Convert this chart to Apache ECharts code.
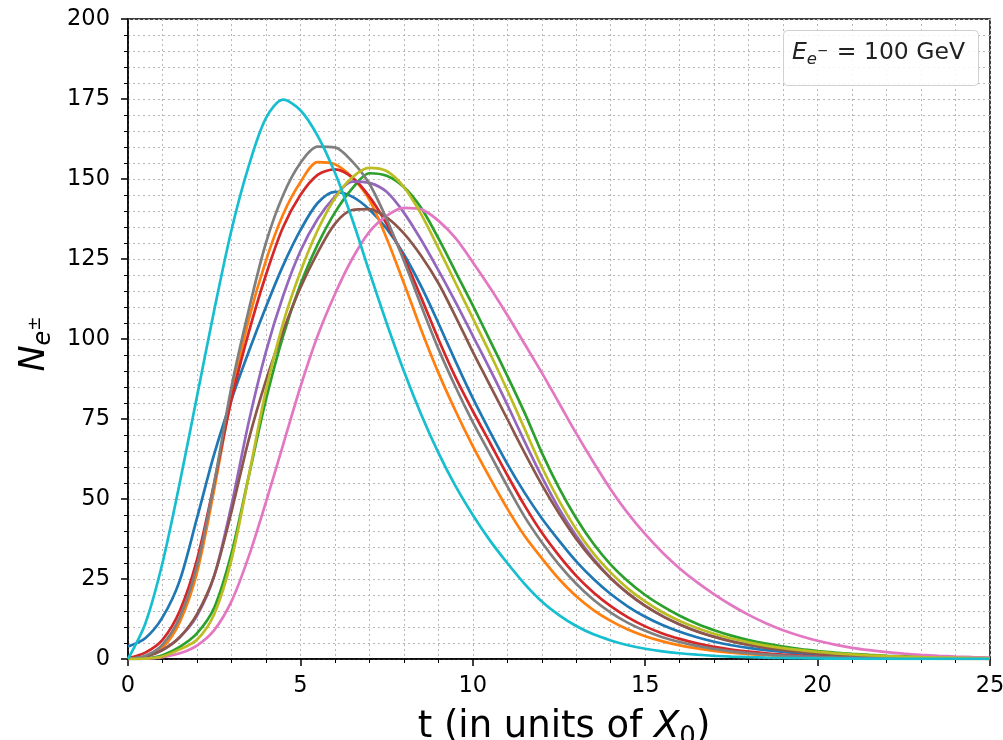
<!DOCTYPE html>
<html>
<head>
<meta charset="utf-8">
<title>Shower profile, 100 GeV electron</title>
<script src="https://cdn.jsdelivr.net/npm/echarts@6/dist/echarts.min.js"></script>
<style>
  html, body { margin: 0; padding: 0; background: #fff; }
  #chart { width: 1003px; height: 740px; }
</style>
</head>
<body>
<div id="chart"></div>
<script>
// depth t in radiation lengths, every half step from 0 to 25
const t = [0, 0.5, 1, 1.5, 2, 2.5, 3, 3.5, 4, 4.5, 5, 5.5, 6, 6.5, 7, 7.5, 8, 8.5, 9, 9.5,
  10, 10.5, 11, 11.5, 12, 12.5, 13, 13.5, 14, 14.5, 15, 15.5, 16, 16.5, 17, 17.5, 18, 18.5, 19, 19.5,
  20, 20.5, 21, 21.5, 22, 22.5, 23, 23.5, 24, 24.5, 25];

// number of e+/e- for each simulated shower
const showerBlue = [3.9, 6.5, 13, 24.5, 44, 64, 81, 96, 110, 123, 134, 142.5, 146, 144.5, 140.5, 134.5, 126.5, 116.5, 105, 93,
  81.5, 71, 61, 52, 44, 37, 30.5, 25, 20.3, 16.4, 13.2, 10.6, 8.5, 6.8, 5.4, 4.3, 3.45, 2.75, 2.2, 1.75,
  1.4, 1.1, 0.86, 0.68, 0.53, 0.41, 0.32, 0.25, 0.2, 0.15, 0.12];
const showerOrange = [0, 0.7, 3.5, 11.5, 27, 53, 82, 106, 124.5, 139, 149, 155.3, 154.6, 150.5, 143.5, 131.5, 117.5, 103, 89.5, 77.5,
  66.5, 56.5, 47, 38.5, 31.5, 25, 19.6, 15.3, 11.9, 9.2, 7.1, 5.5, 4.25, 3.3, 2.55, 1.97, 1.52, 1.17, 0.9, 0.69,
  0.53, 0.41, 0.31, 0.24, 0.18, 0.14, 0.1, 0.08, 0.06, 0.05, 0.04];
const showerGreen = [0, 0.2, 1.2, 3.8, 8, 16, 33, 57, 81, 101, 117, 129.5, 139.5, 147, 151.8, 151, 147.5, 141, 131.5, 121,
  110.5, 99.5, 88.5, 77, 64.5, 53.5, 44, 36, 29.5, 24.3, 20, 16.5, 13.5, 11, 9, 7.3, 5.9, 4.8, 3.9, 3.1,
  2.5, 2, 1.6, 1.28, 1.02, 0.82, 0.65, 0.52, 0.42, 0.33, 0.26];
const showerRed = [0.3, 2, 6, 15, 31, 55, 81, 102, 120, 135, 145, 151.3, 153, 150.5, 144.5, 136, 125.5, 113, 100, 88,
  77.5, 67.5, 57.5, 48, 39.5, 32.3, 26, 20.8, 16.5, 13, 10.2, 8, 6.3, 4.9, 3.8, 2.95, 2.3, 1.78, 1.38, 1.07,
  0.83, 0.64, 0.5, 0.38, 0.3, 0.23, 0.18, 0.14, 0.11, 0.08, 0.06];
const showerPurple = [0, 0.8, 2.8, 6.8, 13.5, 26, 48, 74, 96, 113.5, 127.5, 137.5, 144.5, 149.2, 148.8, 146, 139.5, 131, 121.5, 111.5,
  101, 90.5, 79.5, 68, 57, 47, 38.5, 31.3, 25.3, 20.5, 16.6, 13.4, 10.8, 8.7, 7, 5.6, 4.5, 3.6, 2.9, 2.3,
  1.85, 1.48, 1.18, 0.94, 0.75, 0.6, 0.48, 0.38, 0.3, 0.24, 0.19];
const showerBrown = [0, 0.8, 2.8, 6.8, 14, 26, 46, 68.5, 87, 102.5, 116, 127, 136, 140.3, 140.6, 138, 133, 126, 117.5, 107,
  96, 85.5, 75, 64.5, 54.5, 45.5, 37.5, 30.8, 25.2, 20.5, 16.6, 13.4, 10.8, 8.6, 6.9, 5.5, 4.4, 3.5, 2.8, 2.2,
  1.75, 1.4, 1.1, 0.88, 0.7, 0.55, 0.44, 0.35, 0.28, 0.22, 0.17];
const showerPink = [0, 0.1, 0.6, 1.8, 4.2, 9, 18, 32, 49, 67, 85, 101, 114, 125, 133.5, 138.5, 141, 140.5, 137, 131.5,
  124, 116, 107.5, 98.5, 89.5, 80, 70.5, 61.5, 53, 45.5, 39, 33.3, 28.3, 24, 20.2, 16.8, 13.8, 11.2, 9, 7.2,
  5.7, 4.5, 3.5, 2.75, 2.15, 1.68, 1.3, 1, 0.78, 0.6, 0.47];
const showerGray = [0, 1, 4.5, 13, 29, 55, 85, 109, 130, 145, 155, 160.1, 159.9, 155.5, 148.5, 137.5, 124.5, 110.5, 97, 85,
  74, 64, 54, 44.5, 36.5, 29.5, 23.5, 18.5, 14.5, 11.3, 8.8, 6.8, 5.3, 4.1, 3.15, 2.4, 1.85, 1.42, 1.09, 0.84,
  0.64, 0.49, 0.38, 0.29, 0.22, 0.17, 0.13, 0.1, 0.08, 0.06, 0.04];
const showerOlive = [0, 0.1, 0.8, 3, 6, 14, 31, 57, 84, 105, 121, 134, 144, 150.5, 153.5, 152.5, 147.5, 139, 128.5, 117.5,
  106.5, 95.5, 84, 72, 60, 49.5, 40.5, 33, 27, 22, 18, 14.6, 11.9, 9.7, 7.9, 6.4, 5.2, 4.2, 3.4, 2.75,
  2.2, 1.78, 1.43, 1.15, 0.92, 0.74, 0.59, 0.47, 0.38, 0.3, 0.24];
const showerCyan = [0, 11, 30, 55, 82, 109, 134, 154, 169, 174.8, 171.5, 163.5, 152, 137.5, 121, 105, 90, 76.5, 64.5, 54,
  45, 37, 30, 23.5, 18, 13.7, 10.3, 7.7, 5.8, 4.3, 3.2, 2.4, 1.8, 1.35, 1, 0.75, 0.56, 0.42, 0.31, 0.23,
  0.17, 0.13, 0.1, 0.07, 0.05, 0.04, 0.03, 0.02, 0.02, 0.01, 0.01];

const showers = [
  { values: showerBlue, color: '#1f77b4' },
  { values: showerOrange, color: '#ff7f0e' },
  { values: showerGreen, color: '#2ca02c' },
  { values: showerRed, color: '#d62728' },
  { values: showerPurple, color: '#9467bd' },
  { values: showerBrown, color: '#8c564b' },
  { values: showerPink, color: '#e377c2' },
  { values: showerGray, color: '#7f7f7f' },
  { values: showerOlive, color: '#bcbd22' },
  { values: showerCyan, color: '#17becf' }
];

const font = 'DejaVu Sans';
const gridLine = { color: '#b8b8b8', width: 1, type: [2, 3] };

const chart = echarts.init(document.getElementById('chart'));

chart.setOption({
  animation: false,
  grid: {
    left: 128, right: 13, top: 19, bottom: 81,
    outerBoundsMode: 'none',
    show: true, borderColor: '#000', borderWidth: 1.5
  },
  xAxis: {
    type: 'value',
    min: 0,
    max: 25,
    interval: 5,
    axisLine: { onZero: false, lineStyle: { color: '#000', width: 1.5 } },
    axisTick: { length: 7, lineStyle: { color: '#000', width: 1.5 } },
    minorTick: { show: true, splitNumber: 5, length: 4, lineStyle: { color: '#000', width: 1 } },
    axisLabel: { fontFamily: font, fontSize: 22.5, color: '#000', margin: 16 },
    splitLine: { show: true, lineStyle: gridLine },
    minorSplitLine: { show: true, lineStyle: gridLine },
    name: '{a|t (in units of }{i|X}{s|0}{n|)}',
    nameLocation: 'middle',
    nameGap: 28,
    nameTextStyle: {
      rich: {
        a: { fontFamily: font, fontSize: 37, color: '#000', lineHeight: 46, padding: [0, 0, 0, 10] },
        n: { fontFamily: font, fontSize: 37, color: '#000', lineHeight: 46 },
        i: { fontFamily: font, fontSize: 37, fontStyle: 'italic', color: '#000', lineHeight: 46 },
        s: { fontFamily: font, fontSize: 26, color: '#000', lineHeight: 46, padding: [22, 0, 0, 0] }
      }
    }
  },
  yAxis: {
    type: 'value',
    min: 0,
    max: 200,
    interval: 25,
    axisLine: { show: true, lineStyle: { color: '#000', width: 1.5 } },
    axisTick: { show: true, length: 7, lineStyle: { color: '#000', width: 1.5 } },
    minorTick: { show: true, splitNumber: 5, length: 4, lineStyle: { color: '#000', width: 1 } },
    axisLabel: { fontFamily: font, fontSize: 22.5, color: '#000', margin: 18 },
    splitLine: { show: true, lineStyle: gridLine },
    minorSplitLine: { show: true, lineStyle: gridLine },
    name: '{i|N}{s|e}{p|±}',
    nameLocation: 'middle',
    nameRotate: 90,
    nameGap: 70,
    nameTextStyle: {
      rich: {
        i: { fontFamily: font, fontSize: 35, fontStyle: 'italic', color: '#000', lineHeight: 44 },
        s: { fontFamily: font, fontSize: 24, fontStyle: 'italic', color: '#000', lineHeight: 44, padding: [18, 0, 0, 0] },
        p: { fontFamily: font, fontSize: 17, color: '#000', lineHeight: 44, padding: [0, 10, 0, 0] }
      }
    }
  },
  graphic: [
    {
      type: 'rect',
      left: 783, top: 30,
      shape: { width: 195, height: 55, r: 4 },
      style: { fill: 'rgba(255,255,255,0.85)', stroke: '#d0d0d0', lineWidth: 1 },
      z: 100
    },
    {
      type: 'text',
      left: 792, top: 37,
      style: {
        text: '{i|E}{s|e}{p|−}{n| = 100 GeV}',
        rich: {
          i: { fontFamily: font, fontSize: 23.5, fontStyle: 'italic', fill: '#222', lineHeight: 40 },
          s: { fontFamily: font, fontSize: 16.5, fontStyle: 'italic', fill: '#222', lineHeight: 40, padding: [14, 0, 0, 0] },
          p: { fontFamily: font, fontSize: 13.5, fill: '#222', lineHeight: 40, padding: [0, 1, 2, 0] },
          n: { fontFamily: font, fontSize: 23.5, fill: '#222', lineHeight: 40 }
        }
      },
      z: 101
    }
  ],
  series: showers.map(s => ({
    type: 'line',
    data: t.map((x, i) => [x, s.values[i]]),
    showSymbol: false,
    smooth: 0.3,
    lineStyle: { color: s.color, width: 2.7 },
    itemStyle: { color: s.color },
    clip: true
  }))
});
</script>
</body>
</html>
